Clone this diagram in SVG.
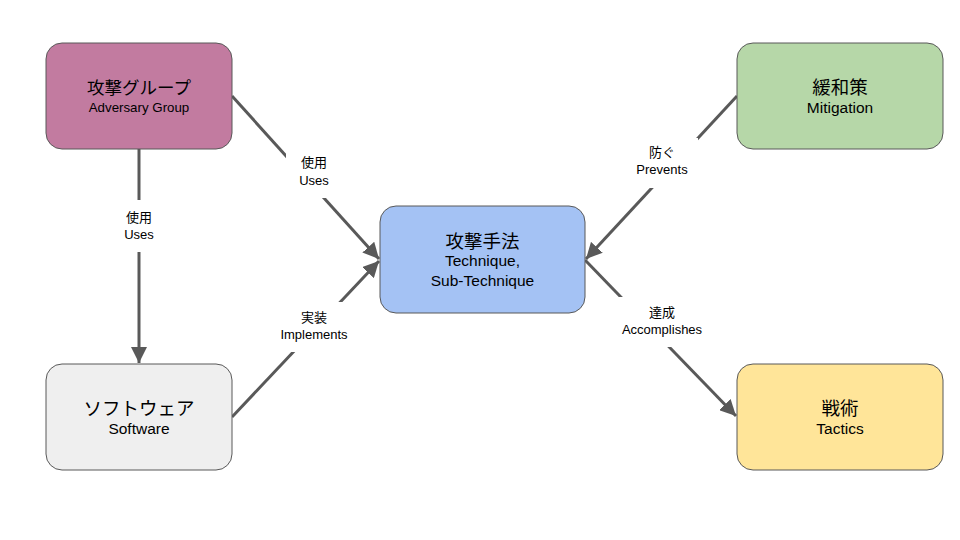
<svg xmlns="http://www.w3.org/2000/svg" width="960" height="540" viewBox="0 0 960 540">
<defs>
<style>
.node{stroke:#595959;stroke-width:1}
.t1{font-family:"Liberation Sans","Noto Sans CJK JP",sans-serif;font-size:18.5px;fill:#000;text-anchor:middle}
.t2{font-family:"Liberation Sans","Noto Sans CJK JP",sans-serif;font-size:15.5px;fill:#000;text-anchor:middle}
.s1{font-size:17.5px}
.s2{font-size:13.3px}
.lb{font-family:"Liberation Sans","Noto Sans CJK JP",sans-serif;font-size:13px;fill:#000;text-anchor:middle}
.edge{stroke:#595959;stroke-width:3;fill:none}
.bg{fill:#fff}
</style>
<marker id="arr" markerUnits="userSpaceOnUse" markerWidth="16" markerHeight="16" viewBox="0 0 16 16" refX="16" refY="8" orient="auto">
<path d="M0,0 L16,8 L0,16 z" fill="#595959"/>
</marker>
</defs>
<rect width="960" height="540" fill="#fff"/>
<g id="connectors">
<line class="edge" x1="139" y1="149" x2="139" y2="363" marker-end="url(#arr)"/>
<line class="edge" x1="232" y1="96" x2="379" y2="259" marker-end="url(#arr)"/>
<line class="edge" x1="232" y1="417" x2="379" y2="261" marker-end="url(#arr)"/>
<line class="edge" x1="737" y1="96" x2="586" y2="259" marker-end="url(#arr)"/>
<line class="edge" x1="585" y1="260" x2="736" y2="416" marker-end="url(#arr)"/>
<rect class="bg" x="112" y="200" width="54" height="52"/>
<text class="lb" x="139" y="222">使用</text>
<text class="lb" x="139" y="239">Uses</text>
<rect class="bg" x="286" y="146" width="56" height="52"/>
<text class="lb" x="314" y="167">使用</text>
<text class="lb" x="314" y="185">Uses</text>
<rect class="bg" x="274" y="302" width="80" height="50"/>
<text class="lb" x="314" y="322">実装</text>
<text class="lb" x="314" y="339">Implements</text>
<rect class="bg" x="626" y="138" width="72" height="50"/>
<text class="lb" x="662" y="157">防ぐ</text>
<text class="lb" x="662" y="174">Prevents</text>
<rect class="bg" x="612" y="297" width="100" height="50"/>
<text class="lb" x="662" y="317">達成</text>
<text class="lb" x="662" y="334">Accomplishes</text>
</g>
<g id="adversary-group">
<rect class="node" x="46" y="43" width="186" height="106" rx="16" fill="#c27ba0"/>
<text class="t1 s1" x="139" y="94">攻撃グループ</text>
<text class="t2 s2" x="139" y="112">Adversary Group</text>
</g>
<g id="technique">
<rect class="node" x="380" y="206" width="205" height="107" rx="16" fill="#a4c2f4"/>
<text class="t1" x="482.5" y="248">攻撃手法</text>
<text class="t2" x="482.5" y="266">Technique,</text>
<text class="t2" x="482.5" y="286">Sub-Technique</text>
</g>
<g id="mitigation">
<rect class="node" x="737" y="43" width="206" height="106" rx="16" fill="#b6d7a8"/>
<text class="t1" x="840" y="94">緩和策</text>
<text class="t2" x="840" y="113">Mitigation</text>
</g>
<g id="software">
<rect class="node" x="46" y="364" width="186" height="106" rx="16" fill="#efefef"/>
<text class="t1" x="139" y="415">ソフトウェア</text>
<text class="t2" x="139" y="434">Software</text>
</g>
<g id="tactics">
<rect class="node" x="737" y="364" width="206" height="106" rx="16" fill="#ffe599"/>
<text class="t1" x="840" y="415">戦術</text>
<text class="t2" x="840" y="434">Tactics</text>
</g>
</svg>
